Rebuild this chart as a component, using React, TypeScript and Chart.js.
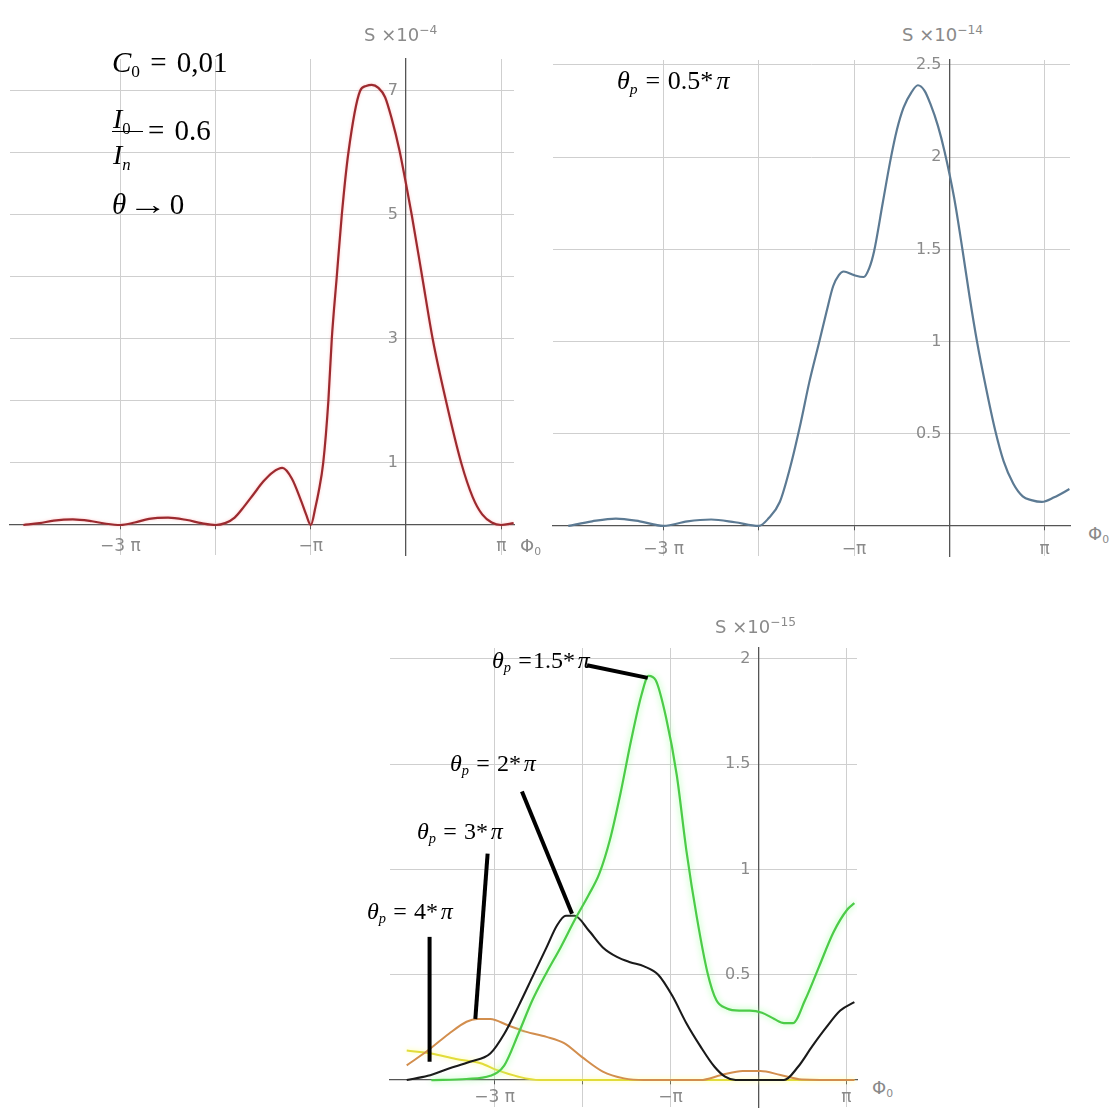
import React, { useEffect, useRef } from "react";
import { Chart, registerables } from "chart.js";

Chart.register(...registerables);

// ---------------- DATA (x in units of π, S in the axis multiplier units) ----------------
// Top-left: C0 = 0,01, I0/In = 0.6, θ → 0   (S ×10^-4)
const redPhi = [-4.02, -3.85, -3.7, -3.5, -3.3, -3.15, -3.0, -2.85, -2.7, -2.5, -2.3, -2.15, -2.0, -1.9, -1.8, -1.7, -1.6, -1.5, -1.4, -1.3, -1.2, -1.1, -1.05, -1.0, -0.95, -0.92, -0.87, -0.816, -0.78, -0.728, -0.675, -0.606, -0.483, -0.42, -0.36, -0.29, -0.22, -0.15, -0.07, 0.0, 0.06, 0.17, 0.28, 0.42, 0.58, 0.7, 0.8, 0.9, 1.0, 1.13];
const redS = [0, 0.03, 0.07, 0.09, 0.06, 0.02, 0, 0.04, 0.1, 0.12, 0.08, 0.03, 0, 0.03, 0.12, 0.3, 0.5, 0.7, 0.85, 0.92, 0.75, 0.38, 0.17, 0, 0.3, 0.52, 1.0, 2.0, 3.0, 4.0, 5.0, 6.0, 7.0, 7.08, 7.1, 7.05, 6.9, 6.55, 6.05, 5.5, 5.0, 4.0, 3.0, 2.0, 1.0, 0.45, 0.17, 0.04, 0, 0.03];

// Top-right: θp = 0.5·π   (S ×10^-14)
const bluePhi = [-4.0, -3.75, -3.5, -3.25, -3.0, -2.75, -2.5, -2.25, -2.0, -1.9, -1.78, -1.67, -1.56, -1.47, -1.37, -1.29, -1.22, -1.16, -1.11, -1.0, -0.9, -0.84, -0.79, -0.7, -0.62, -0.55, -0.48, -0.4, -0.33, -0.26, -0.2, -0.12, -0.05, 0.05, 0.14, 0.21, 0.29, 0.38, 0.48, 0.57, 0.67, 0.77, 0.86, 0.97, 1.1, 1.26];
const blueS = [0, 0.025, 0.04, 0.025, 0, 0.025, 0.035, 0.02, 0, 0.04, 0.13, 0.32, 0.56, 0.78, 0.99, 1.16, 1.3, 1.36, 1.38, 1.36, 1.35, 1.4, 1.49, 1.75, 1.98, 2.15, 2.27, 2.35, 2.39, 2.36, 2.29, 2.17, 2.03, 1.78, 1.49, 1.25, 1.0, 0.76, 0.52, 0.35, 0.23, 0.16, 0.14, 0.13, 0.155, 0.2];

// Bottom: θp = 1.5π, 2π, 3π, 4π   (S ×10^-15)
const greenPhi = [-3.72, -3.32, -3.05, -2.89, -2.73, -2.57, -2.41, -2.25, -2.09, -1.93, -1.81, -1.69, -1.57, -1.45, -1.33, -1.25, -1.17, -1.05, -0.93, -0.82, -0.7, -0.58, -0.48, -0.36, -0.22, -0.1, 0.04, 0.18, 0.29, 0.39, 0.53, 0.69, 0.85, 1.01, 1.09];
const greenS = [0, 0.005, 0.02, 0.07, 0.22, 0.38, 0.51, 0.63, 0.76, 0.88, 0.98, 1.14, 1.36, 1.61, 1.83, 1.92, 1.9, 1.72, 1.45, 1.09, 0.77, 0.51, 0.38, 0.34, 0.33, 0.33, 0.32, 0.29, 0.27, 0.27, 0.38, 0.54, 0.7, 0.81, 0.84];

const blackPhi = [-4.0, -3.76, -3.52, -3.28, -3.05, -2.89, -2.73, -2.57, -2.41, -2.29, -2.19, -2.09, -1.93, -1.77, -1.61, -1.46, -1.3, -1.14, -0.98, -0.82, -0.66, -0.5, -0.38, -0.26, 0.0, 0.29, 0.45, 0.61, 0.77, 0.93, 1.09];
const blackS = [0, 0.02, 0.055, 0.087, 0.126, 0.22, 0.35, 0.49, 0.63, 0.735, 0.78, 0.78, 0.71, 0.63, 0.585, 0.56, 0.54, 0.5, 0.4, 0.27, 0.16, 0.063, 0.016, 0, 0, 0, 0.063, 0.16, 0.25, 0.33, 0.37];

const orangePhi = [-4.0, -3.76, -3.52, -3.32, -3.2, -3.05, -2.85, -2.65, -2.41, -2.21, -2.01, -1.77, -1.53, -1.3, -0.66, -0.42, -0.18, 0.02, 0.25, 0.49, 1.09];
const orangeS = [0.07, 0.14, 0.22, 0.277, 0.29, 0.29, 0.26, 0.23, 0.205, 0.175, 0.11, 0.04, 0.008, 0, 0, 0.024, 0.043, 0.043, 0.024, 0.003, 0];

const yellowPhi = [-4.0, -3.72, -3.44, -3.16, -2.97, -2.73, -2.49, -2.0, -1.0, 0.0, 1.09];
const yellowS = [0.14, 0.126, 0.1, 0.08, 0.047, 0.016, 0, 0, 0, 0, 0];

// Leader lines (annotation pointers) in data units of the bottom chart
const leaderX1 = [-1.95, -2.69, -3.08, -3.74];
const leaderY1 = [1.97, 1.37, 1.075, 0.68];
const leaderX2 = [-1.26, -2.12, -3.22, -3.74];
const leaderY2 = [1.91, 0.79, 0.29, 0.087];

// Ticks
const xTickValues = [-3, -2, -1, 1];
const xTickLabels: Record<string, string> = { "-3": "−3 π", "-1": "−π", "1": "π" };
const topLeftYTicks = [1, 2, 3, 4, 5, 6, 7];
const topLeftYLabels: Record<string, string> = { "1": "1", "3": "3", "5": "5", "7": "7" };
const topRightYTicks = [0.5, 1, 1.5, 2, 2.5];
const topRightYLabels: Record<string, string> = { "0.5": "0.5", "1": "1", "1.5": "1.5", "2": "2", "2.5": "2.5" };
const bottomYTicks = [0.5, 1, 1.5, 2];
const bottomYLabels: Record<string, string> = { "0.5": "0.5", "1": "1", "1.5": "1.5", "2": "2" };

// ---------------- STYLE ----------------
const SANS = "'DejaVu Sans', 'Liberation Sans', sans-serif";
const SERIF = "'Liberation Serif', 'Times New Roman', serif";
const LABEL_GRAY = "#8a8a8a";
const GRID = "#cfcfcf";
const AXIS = "#555555";
const PAD = 14;

type Series = { phi: number[]; s: number[]; color: string; width: number; glow?: string; blur?: number };
type Box = { left: number; top: number; right: number; bottom: number };
type PlotProps = {
  box: Box;
  xMin: number;
  xMax: number;
  yMin: number;
  yMax: number;
  yTicks: number[];
  yLabels: Record<string, string>;
  series: Series[];
  xLabelPad: number;
  leaders?: boolean;
};

function Plot(p: PlotProps) {
  const ref = useRef<HTMLCanvasElement>(null);
  const w = p.box.right - p.box.left + 2 * PAD;
  const h = p.box.bottom - p.box.top + 2 * PAD;

  useEffect(() => {
    const canvas = ref.current;
    if (!canvas) return;

    const glowPlugin = {
      id: "glow",
      beforeDatasetDraw(chart: any, args: any) {
        const ds: any = chart.data.datasets[args.index];
        chart.ctx.save();
        if (ds.glow) {
          chart.ctx.shadowColor = ds.glow;
          chart.ctx.shadowBlur = ds.blur ?? 5;
        }
      },
      afterDatasetDraw(chart: any) {
        chart.ctx.restore();
      },
    };

    const leaderPlugin = {
      id: "leaders",
      afterDatasetsDraw(chart: any) {
        if (!p.leaders) return;
        const ctx = chart.ctx;
        const xs = chart.scales.x;
        const ys = chart.scales.y;
        ctx.save();
        ctx.strokeStyle = "#000";
        ctx.lineWidth = 4;
        ctx.lineCap = "butt";
        for (let i = 0; i < leaderX1.length; i++) {
          ctx.beginPath();
          ctx.moveTo(xs.getPixelForValue(leaderX1[i]), ys.getPixelForValue(leaderY1[i]));
          ctx.lineTo(xs.getPixelForValue(leaderX2[i]), ys.getPixelForValue(leaderY2[i]));
          ctx.stroke();
        }
        ctx.restore();
      },
    };

    const zeroFit = (s: any) => {
      if (s.isHorizontal()) s.height = 0;
      else s.width = 0;
      s.paddingLeft = 0;
      s.paddingRight = 0;
      s.paddingTop = 0;
      s.paddingBottom = 0;
    };

    const chart = new Chart(canvas, {
      type: "line",
      data: {
        datasets: p.series.map((s) => ({
          data: s.phi.map((x, i) => ({ x, y: s.s[i] })),
          borderColor: s.color,
          borderWidth: s.width,
          pointRadius: 0,
          fill: false,
          cubicInterpolationMode: "monotone",
          glow: s.glow,
          blur: s.blur,
        })) as any,
      },
      options: {
        responsive: false,
        animation: false,
        events: [],
        layout: { padding: PAD, autoPadding: false } as any,
        plugins: { legend: { display: false }, tooltip: { enabled: false } },
        scales: {
          x: {
            type: "linear",
            min: p.xMin,
            max: p.xMax,
            position: { y: 0 } as any,
            afterBuildTicks: (s: any) => {
              s.ticks = xTickValues.map((v) => ({ value: v }));
            },
            afterFit: zeroFit,
            ticks: {
              autoSkip: false,
              maxRotation: 0,
              padding: p.xLabelPad,
              color: LABEL_GRAY,
              font: { family: SANS, size: 17 },
              callback: (v: any) => xTickLabels[String(v)] ?? "",
            },
            grid: { color: GRID, lineWidth: 1, drawTicks: true, tickLength: 4, tickColor: AXIS },
            border: { display: true, color: AXIS, width: 1.3 },
          },
          y: {
            type: "linear",
            min: p.yMin,
            max: p.yMax,
            position: { x: 0 } as any,
            afterBuildTicks: (s: any) => {
              s.ticks = p.yTicks.map((v) => ({ value: v }));
            },
            afterFit: zeroFit,
            ticks: {
              autoSkip: false,
              padding: 6,
              color: LABEL_GRAY,
              font: { family: SANS, size: 16 },
              callback: (v: any) => {
                const t = p.yLabels[String(v)];
                return t ? t + "\u2002" : "";
              },
            },
            grid: { color: GRID, lineWidth: 1, drawTicks: false },
            border: { display: true, color: AXIS, width: 1.3 },
          },
        },
      },
      plugins: [glowPlugin, leaderPlugin] as any,
    });
    return () => chart.destroy();
  }, []);

  return (
    <canvas
      ref={ref}
      width={w}
      height={h}
      style={{ position: "absolute", left: p.box.left - PAD, top: p.box.top - PAD, width: w, height: h }}
    />
  );
}

// ---------------- TEXT HELPERS ----------------
const Sub = ({ children }: { children: any }) => (
  <span style={{ fontSize: "0.6em", position: "relative", top: "0.32em" }}>{children}</span>
);
const Sup = ({ children }: { children: any }) => (
  <span style={{ fontSize: "0.68em", position: "relative", top: "-0.6em" }}>{children}</span>
);
const Eq = ({ l = 0.25, r = 0.25 }: { l?: number; r?: number }) => (
  <span style={{ marginLeft: `${l}em`, marginRight: `${r}em` }}>=</span>
);

function TextAt(props: { x: number; baseline: number; size: number; serif?: boolean; color?: string; children: any }) {
  const { x, baseline, size, serif, color, children } = props;
  return (
    <div
      style={{
        position: "absolute",
        left: x,
        top: baseline - 0.84 * size,
        fontSize: size,
        lineHeight: `${size}px`,
        fontFamily: serif ? SERIF : SANS,
        color: color ?? "#000",
        whiteSpace: "nowrap",
        zIndex: 2,
      }}
    >
      {children}
    </div>
  );
}

const ThetaP = ({ value, spaceBefore = true, spaceAfter = true }: { value: string; spaceBefore?: boolean; spaceAfter?: boolean }) => (
  <>
    <i>θ</i>
    <Sub>
      <i>p</i>
    </Sub>
    <Eq l={spaceBefore ? 0.3 : 0.1} r={spaceAfter ? 0.3 : 0.05} />
    {value}*<span style={{ marginLeft: "0.12em" }}>
      <i>π</i>
    </span>
  </>
);

export default function App() {
  return (
    <div style={{ position: "absolute", left: 0, top: 0, width: 1113, height: 1108, background: "#fff", overflow: "hidden" }}>
      {/* Top-left chart */}
      <Plot
        box={{ left: 10, top: 59, right: 514, bottom: 555 }}
        xMin={-4.16}
        xMax={1.134}
        yMin={-0.484}
        yMax={7.516}
        yTicks={topLeftYTicks}
        yLabels={topLeftYLabels}
        xLabelPad={7}
        series={[{ phi: redPhi, s: redS, color: "#9c2a2f", width: 2.2, glow: "rgba(255,150,150,0.55)", blur: 3 }]}
      />
      <TextAt x={364} baseline={41} size={18} color={LABEL_GRAY}>
        S ×10<Sup>−4</Sup>
      </TextAt>
      <TextAt x={520} baseline={552} size={18} color={LABEL_GRAY}>
        Φ<Sub>0</Sub>
      </TextAt>
      <TextAt x={112} baseline={72} size={29} serif>
        <i>C</i>
        <Sub>0</Sub>
        <Eq l={0.35} r={0.35} />
        0,01
      </TextAt>
      <TextAt x={113} baseline={129} size={28} serif>
        <i>I</i>
        <Sub>0</Sub>
      </TextAt>
      <div style={{ position: "absolute", left: 112, top: 131, width: 31, height: 1.4, background: "#000", zIndex: 2 }} />
      <TextAt x={113} baseline={165} size={28} serif>
        <i>I</i>
        <Sub>
          <i>n</i>
        </Sub>
      </TextAt>
      <TextAt x={148} baseline={140} size={29} serif>
        <Eq l={0} r={0.35} />
        0.6
      </TextAt>
      <TextAt x={112} baseline={214} size={29} serif>
        <i>θ</i>
        <span style={{ display: "inline-block", width: "1.5em", textAlign: "center", transform: "scaleX(1.35)" }}>→</span>0
      </TextAt>

      {/* Top-right chart */}
      <Plot
        box={{ left: 553, top: 60, right: 1070, bottom: 556 }}
        xMin={-4.16}
        xMax={1.266}
        yMin={-0.163}
        yMax={2.527}
        yTicks={topRightYTicks}
        yLabels={topRightYLabels}
        xLabelPad={9}
        series={[{ phi: bluePhi, s: blueS, color: "#5c7a93", width: 2.2 }]}
      />
      <TextAt x={902} baseline={41} size={18} color={LABEL_GRAY}>
        S ×10<Sup>−14</Sup>
      </TextAt>
      <TextAt x={1088} baseline={540} size={18} color={LABEL_GRAY}>
        Φ<Sub>0</Sub>
      </TextAt>
      <TextAt x={617} baseline={90} size={26} serif>
        <ThetaP value="0.5" />
      </TextAt>

      {/* Bottom chart */}
      <Plot
        box={{ left: 390, top: 648, right: 857, bottom: 1107 }}
        xMin={-4.19}
        xMax={1.12}
        yMin={-0.128}
        yMax={2.052}
        yTicks={bottomYTicks}
        yLabels={bottomYLabels}
        xLabelPad={3}
        leaders
        series={[
          { phi: greenPhi, s: greenS, color: "#4ccb48", width: 2.2, glow: "rgba(150,255,150,0.9)", blur: 6 },
          { phi: blackPhi, s: blackS, color: "#1a1a1a", width: 2.1 },
          { phi: orangePhi, s: orangeS, color: "#d28e4e", width: 2 },
          { phi: yellowPhi, s: yellowS, color: "#e2dc3a", width: 2, glow: "rgba(255,255,140,0.9)", blur: 5 },
        ]}
      />
      <TextAt x={715} baseline={633} size={18} color={LABEL_GRAY}>
        S ×10<Sup>−15</Sup>
      </TextAt>
      <TextAt x={872} baseline={1094} size={18} color={LABEL_GRAY}>
        Φ<Sub>0</Sub>
      </TextAt>
      <TextAt x={492} baseline={668} size={24} serif>
        <ThetaP value="1.5" spaceAfter={false} />
      </TextAt>
      <TextAt x={450} baseline={771} size={24} serif>
        <ThetaP value="2" />
      </TextAt>
      <TextAt x={417} baseline={839} size={24} serif>
        <ThetaP value="3" />
      </TextAt>
      <TextAt x={367} baseline={919} size={24} serif>
        <ThetaP value="4" />
      </TextAt>
    </div>
  );
}
